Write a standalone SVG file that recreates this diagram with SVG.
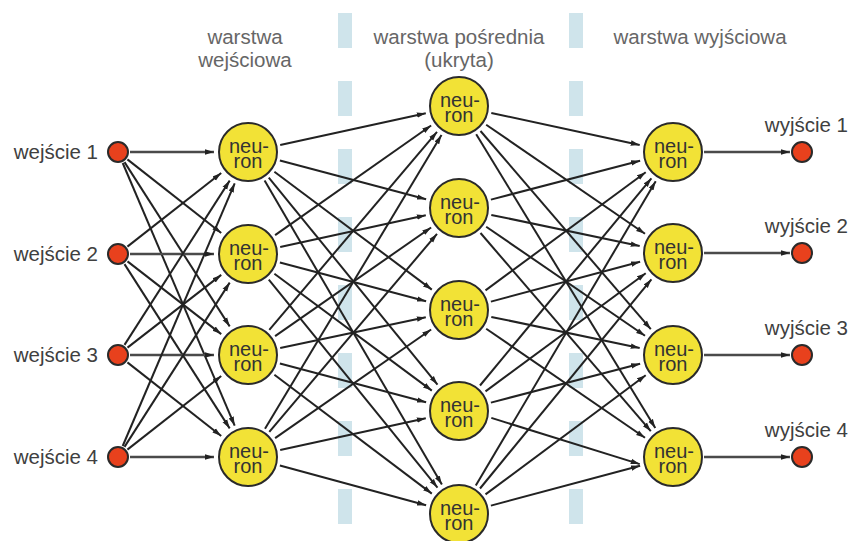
<svg xmlns="http://www.w3.org/2000/svg" width="851" height="541" viewBox="0 0 851 541">
  <style>
    .lbl { font-family: "Liberation Sans", Arial, sans-serif; font-size: 20.5px; fill: #404040; }
    .head { font-family: "Liberation Sans", Arial, sans-serif; font-size: 20.5px; fill: #666; text-anchor: middle; }
    .neuron circle { fill: #f2e236; stroke: #2a2a2a; stroke-width: 2; }
    .neuron text { font-family: "Liberation Sans", Arial, sans-serif; font-size: 20px; fill: #333; text-anchor: middle; }
    .io circle { fill: #e8411d; stroke: #2a2a2a; stroke-width: 2; }
    .sep { stroke: #cfe4eb; stroke-width: 14; stroke-dasharray: 35 33; }
    .links line { stroke: #222; stroke-width: 2; marker-end: url(#arrow); }
    .links line.flat { stroke: #4a4a4a; stroke-width: 2.6; }
  </style>
  <defs>
    <marker id="arrow" markerUnits="userSpaceOnUse" markerWidth="10" markerHeight="7" refX="9" refY="3.5" orient="auto">
      <path d="M0,0.8 L9,3.5 L0,6.2 z" fill="#222"/>
    </marker>
  </defs>

  <rect width="851" height="541" fill="#fff"/>

  <!-- dashed layer separators -->
  <g id="separators">
    <line class="sep" x1="345" y1="13" x2="345" y2="525"/>
    <line class="sep" x1="576" y1="13" x2="576" y2="525"/>
  </g>

  <!-- column headings -->
  <g id="headings">
    <text class="head" x="245" y="44">warstwa</text>
    <text class="head" x="245" y="67">wejściowa</text>
    <text class="head" x="459" y="44">warstwa pośrednia</text>
    <text class="head" x="459" y="67">(ukryta)</text>
    <text class="head" x="700" y="44">warstwa wyjściowa</text>
  </g>

  <!-- connectors -->
  <g id="connectors" class="links">
    <!-- inputs to input layer -->
    <line class="flat" x1="130" y1="152" x2="214" y2="152"/>
    <line x1="127.4" y1="159.4" x2="221.2" y2="233.0"/>
    <line x1="124.5" y1="162.1" x2="229.7" y2="326.4"/>
    <line x1="122.7" y1="163.0" x2="234.7" y2="425.7"/>
    <line x1="127.4" y1="246.6" x2="221.2" y2="173.0"/>
    <line class="flat" x1="130" y1="254" x2="214" y2="254"/>
    <line x1="127.5" y1="261.4" x2="221.2" y2="334.1"/>
    <line x1="124.5" y1="264.1" x2="229.7" y2="428.4"/>
    <line x1="124.5" y1="344.9" x2="229.7" y2="180.6"/>
    <line x1="127.5" y1="347.6" x2="221.2" y2="274.9"/>
    <line class="flat" x1="130" y1="355" x2="214" y2="355"/>
    <line x1="127.4" y1="362.4" x2="221.2" y2="436.0"/>
    <line x1="122.7" y1="446.0" x2="234.7" y2="183.3"/>
    <line x1="124.5" y1="446.9" x2="229.7" y2="282.6"/>
    <line x1="127.4" y1="449.6" x2="221.2" y2="376.0"/>
    <line class="flat" x1="130" y1="457" x2="214" y2="457"/>

    <!-- input layer to hidden layer -->
    <line x1="280.2" y1="145.0" x2="425.8" y2="113.2"/>
    <line x1="279.9" y1="160.5" x2="426.1" y2="199.3"/>
    <line x1="274.4" y1="171.8" x2="431.8" y2="289.6"/>
    <line x1="268.8" y1="177.6" x2="437.5" y2="384.6"/>
    <line x1="264.6" y1="180.5" x2="441.9" y2="484.6"/>
    <line x1="275.1" y1="235.1" x2="431.1" y2="125.5"/>
    <line x1="280.2" y1="247.0" x2="425.8" y2="215.2"/>
    <line x1="279.9" y1="262.5" x2="426.1" y2="301.3"/>
    <line x1="274.4" y1="273.8" x2="431.8" y2="390.6"/>
    <line x1="268.8" y1="279.6" x2="437.5" y2="487.6"/>
    <line x1="269.3" y1="329.8" x2="437.0" y2="131.9"/>
    <line x1="275.1" y1="336.1" x2="431.1" y2="227.5"/>
    <line x1="280.2" y1="348.0" x2="425.8" y2="317.2"/>
    <line x1="279.9" y1="363.5" x2="426.1" y2="402.3"/>
    <line x1="274.4" y1="374.8" x2="431.8" y2="493.6"/>
    <line x1="265.0" y1="428.7" x2="441.5" y2="135.1"/>
    <line x1="269.3" y1="431.8" x2="437.0" y2="233.9"/>
    <line x1="275.1" y1="438.1" x2="431.1" y2="329.5"/>
    <line x1="280.2" y1="450.0" x2="425.8" y2="418.2"/>
    <line x1="279.9" y1="465.5" x2="426.1" y2="505.3"/>

    <!-- hidden layer to output layer -->
    <line x1="491.3" y1="112.9" x2="639.7" y2="144.9"/>
    <line x1="486.2" y1="124.7" x2="645.0" y2="233.8"/>
    <line x1="480.5" y1="131.0" x2="650.8" y2="329.2"/>
    <line x1="476.2" y1="134.2" x2="655.3" y2="428.0"/>
    <line x1="490.9" y1="199.6" x2="640.1" y2="160.7"/>
    <line x1="491.3" y1="214.9" x2="639.7" y2="245.9"/>
    <line x1="486.2" y1="226.7" x2="645.0" y2="335.8"/>
    <line x1="480.5" y1="233.0" x2="650.8" y2="431.2"/>
    <line x1="485.5" y1="290.4" x2="645.7" y2="172.2"/>
    <line x1="490.9" y1="301.6" x2="640.1" y2="261.7"/>
    <line x1="491.3" y1="316.9" x2="639.7" y2="347.9"/>
    <line x1="486.2" y1="328.7" x2="645.0" y2="437.8"/>
    <line x1="480.0" y1="385.5" x2="651.4" y2="178.3"/>
    <line x1="485.5" y1="391.4" x2="645.7" y2="273.2"/>
    <line x1="490.9" y1="402.6" x2="640.1" y2="363.7"/>
    <line x1="491.3" y1="417.9" x2="639.7" y2="464.1"/>
    <line x1="475.8" y1="485.6" x2="655.7" y2="181.3"/>
    <line x1="480.0" y1="488.5" x2="651.4" y2="279.3"/>
    <line x1="485.5" y1="494.4" x2="645.7" y2="375.2"/>
    <line x1="490.9" y1="505.6" x2="640.1" y2="465.7"/>

    <!-- output layer to outputs -->
    <line class="flat" x1="704" y1="152" x2="790" y2="152"/>
    <line class="flat" x1="704" y1="253" x2="790" y2="253"/>
    <line class="flat" x1="704" y1="355" x2="790" y2="355"/>
    <line class="flat" x1="704" y1="457" x2="790" y2="457"/>
  </g>

  <!-- inputs -->
  <g id="in1" class="io"><circle cx="118" cy="152" r="10"/><text class="lbl" x="98" y="159" text-anchor="end">wejście 1</text></g>
  <g id="in2" class="io"><circle cx="118" cy="254" r="10"/><text class="lbl" x="98" y="261" text-anchor="end">wejście 2</text></g>
  <g id="in3" class="io"><circle cx="118" cy="355" r="10"/><text class="lbl" x="98" y="362" text-anchor="end">wejście 3</text></g>
  <g id="in4" class="io"><circle cx="118" cy="457" r="10"/><text class="lbl" x="98" y="464" text-anchor="end">wejście 4</text></g>

  <!-- input layer -->
  <g id="a1" class="neuron"><circle cx="248" cy="152" r="29"/><text><tspan x="249" y="153">neu-</tspan><tspan x="248" y="168">ron</tspan></text></g>
  <g id="a2" class="neuron"><circle cx="248" cy="254" r="29"/><text><tspan x="249" y="255">neu-</tspan><tspan x="248" y="270">ron</tspan></text></g>
  <g id="a3" class="neuron"><circle cx="248" cy="355" r="29"/><text><tspan x="249" y="356">neu-</tspan><tspan x="248" y="371">ron</tspan></text></g>
  <g id="a4" class="neuron"><circle cx="248" cy="457" r="29"/><text><tspan x="249" y="458">neu-</tspan><tspan x="248" y="473">ron</tspan></text></g>

  <!-- hidden layer -->
  <g id="h1" class="neuron"><circle cx="459" cy="106" r="29"/><text><tspan x="460" y="107">neu-</tspan><tspan x="459" y="122">ron</tspan></text></g>
  <g id="h2" class="neuron"><circle cx="459" cy="208" r="29"/><text><tspan x="460" y="209">neu-</tspan><tspan x="459" y="224">ron</tspan></text></g>
  <g id="h3" class="neuron"><circle cx="459" cy="310" r="29"/><text><tspan x="460" y="311">neu-</tspan><tspan x="459" y="326">ron</tspan></text></g>
  <g id="h4" class="neuron"><circle cx="459" cy="411" r="29"/><text><tspan x="460" y="412">neu-</tspan><tspan x="459" y="427">ron</tspan></text></g>
  <g id="h5" class="neuron"><circle cx="459" cy="514" r="29"/><text><tspan x="460" y="515">neu-</tspan><tspan x="459" y="530">ron</tspan></text></g>

  <!-- output layer -->
  <g id="b1" class="neuron"><circle cx="673" cy="152" r="29"/><text><tspan x="674" y="153">neu-</tspan><tspan x="673" y="168">ron</tspan></text></g>
  <g id="b2" class="neuron"><circle cx="673" cy="253" r="29"/><text><tspan x="674" y="254">neu-</tspan><tspan x="673" y="269">ron</tspan></text></g>
  <g id="b3" class="neuron"><circle cx="673" cy="355" r="29"/><text><tspan x="674" y="356">neu-</tspan><tspan x="673" y="371">ron</tspan></text></g>
  <g id="b4" class="neuron"><circle cx="673" cy="457" r="29"/><text><tspan x="674" y="458">neu-</tspan><tspan x="673" y="473">ron</tspan></text></g>

  <!-- outputs -->
  <g id="out1" class="io"><circle cx="802" cy="152" r="10"/><text class="lbl" x="848" y="132" text-anchor="end">wyjście 1</text></g>
  <g id="out2" class="io"><circle cx="802" cy="253" r="10"/><text class="lbl" x="848" y="233" text-anchor="end">wyjście 2</text></g>
  <g id="out3" class="io"><circle cx="802" cy="355" r="10"/><text class="lbl" x="848" y="335" text-anchor="end">wyjście 3</text></g>
  <g id="out4" class="io"><circle cx="802" cy="457" r="10"/><text class="lbl" x="848" y="437" text-anchor="end">wyjście 4</text></g>
</svg>
